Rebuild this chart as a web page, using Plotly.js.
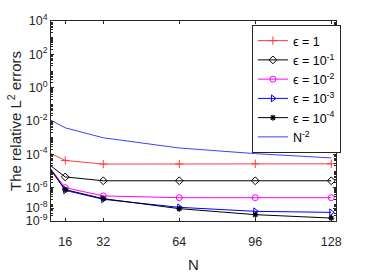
<!DOCTYPE html>
<html>
<head>
<meta charset="utf-8">
<script src="https://cdn.plot.ly/plotly-3.0.1.min.js"></script>
<style>html,body{margin:0;padding:0;background:#fff;}#chart{width:371px;height:278px;}</style>
</head>
<body>
<div id="chart"></div>
<script>
// Data
const N = [8, 16, 32, 64, 96, 128];
const eps1    = [1.5e-4, 4.3e-5, 2.6e-5, 2.6e-5, 2.7e-5, 2.7e-5];
const eps1e1  = [3.3e-5, 4.4e-6, 2.6e-6, 2.6e-6, 2.6e-6, 2.6e-6];
const eps1e2  = [2.9e-5, 1.0e-6, 3.2e-7, 2.5e-7, 2.5e-7, 2.5e-7];
const eps1e3  = [3.1e-5, 6.9e-7, 2.0e-7, 6.6e-8, 3.8e-8, 3.3e-8];
const eps1e4  = [2.8e-5, 7.6e-7, 2.2e-7, 5.5e-8, 2.4e-8, 1.5e-8];
const nMinus2 = [1.56e-2, 3.9e-3, 9.8e-4, 2.4e-4, 1.1e-4, 6.1e-5];
const seriesNames = ['ϵ = 1', 'ϵ = 10<sup>-1</sup>', 'ϵ = 10<sup>-2</sup>', 'ϵ = 10<sup>-3</sup>', 'ϵ = 10<sup>-4</sup>', 'N<sup>-2</sup>'];
const xTicks = [16, 32, 64, 96, 128];
const yTickVals = [1e4, 1e2, 1, 1e-2, 1e-4, 1e-6, 6e-8, 1e-8];
const yTickText = ['10<sup>4</sup>', '10<sup>2</sup>', '10<sup>0</sup>', '10<sup>-2</sup>', '10<sup>-4</sup>', '10<sup>-6</sup>', '10<sup>-8</sup>', '10<sup>-9</sup>'];

const font = 'Liberation Sans, Arial, sans-serif';
function tr(y, name, color, symbol, size, lw, i) {
  const t = {
    x: N, y: y, name: name, type: 'scatter', mode: symbol ? 'lines+markers' : 'lines',
    line: {color: color, width: 1}, legendgroup: 'g' + i,
    cliponaxis: true
  };
  if (symbol) t.marker = {symbol: symbol, size: size, color: color, line: {color: color, width: lw}};
  return t;
}
const data = [
  tr(eps1,   seriesNames[0], 'rgb(255,60,60)', 'cross-thin-open', 6, 1, 0),
  tr(eps1e1, seriesNames[1], '#000000', 'diamond-open', 6, 1, 1),
  tr(eps1e2, seriesNames[2], '#ff00ff', 'circle-open', 6, 1, 2),
  tr(eps1e3, seriesNames[3], '#0000ff', 'triangle-right-open', 6, 1, 3),
  tr(eps1e4, seriesNames[4], '#000000', 'asterisk-open', 5, 1.2, 4),
  tr(nMinus2, seriesNames[5], '#4040ff', null, 0, 0, 5)
];

const axisCommon = {
  showgrid: false, zeroline: false, showline: true, linecolor: '#262626', linewidth: 1,
  mirror: 'ticks', ticks: 'inside', ticklen: 3, tickcolor: '#262626', tickwidth: 1,
  tickfont: {family: font, size: 12.5, color: '#262626'}
};
const layout = {
  width: 371, height: 278,
  margin: {l: 51, r: 35, t: 21, b: 57},
  paper_bgcolor: '#ffffff', plot_bgcolor: '#ffffff',
  font: {family: font, color: '#262626'},
  showlegend: true,
  legend: {
    x: 0.705, y: 0.98, xanchor: 'left', yanchor: 'top',
    bgcolor: '#ffffff', bordercolor: '#262626', borderwidth: 1,
    font: {family: font, size: 12.5, color: '#000'},
    tracegroupgap: 0, itemwidth: 30
  },
  xaxis: Object.assign({}, axisCommon, {
    type: 'linear', range: [10, 130], tickmode: 'array', tickvals: xTicks,
    ticklabelstandoff: 9,
    title: {text: 'N', font: {family: font, size: 15, color: '#262626'}, standoff: 11}
  }),
  yaxis: Object.assign({}, axisCommon, {
    type: 'log', range: [-8, 4], tickmode: 'array', tickvals: yTickVals, ticktext: yTickText,
    minor: {ticks: 'inside', ticklen: 2, tickcolor: '#262626', dtick: 'D1', showgrid: false},
    title: {text: 'The relative L<sup>2</sup> errors', font: {family: font, size: 15, color: '#262626'}, standoff: 0}
  })
};
Plotly.newPlot('chart', data, layout, {staticPlot: true, displayModeBar: false});
</script>
</body>
</html>
